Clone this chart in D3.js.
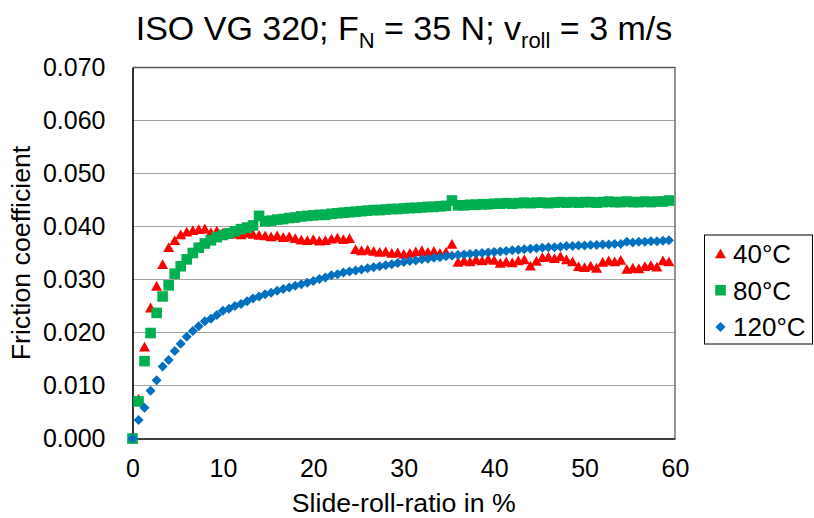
<!DOCTYPE html>
<html>
<head>
<meta charset="utf-8">
<script src="https://cdn.jsdelivr.net/npm/d3@7"></script>
<style>
  html, body { margin: 0; padding: 0; background: #fff; }
  svg text { font-family: "Liberation Sans", Arial, sans-serif; fill: #000; }
</style>
</head>
<body>
<svg id="chart" width="814" height="518"></svg>
<script>
// Slide-roll-ratio in %
const srr = [0, 0.67, 1.33, 2, 2.67, 3.33, 4, 4.67, 5.33, 6, 6.67, 7.33, 8, 8.67, 9.33,
  10, 10.67, 11.33, 12, 12.67, 13.33, 14, 14.67, 15.33, 16, 16.67, 17.33, 18, 18.67, 19.33,
  20, 20.67, 21.33, 22, 22.67, 23.33, 24, 24.67, 25.33, 26, 26.67, 27.33, 28, 28.67, 29.33,
  30, 30.67, 31.33, 32, 32.67, 33.33, 34, 34.67, 35.33, 36, 36.67, 37.33, 38, 38.67, 39.33,
  40, 40.67, 41.33, 42, 42.67, 43.33, 44, 44.67, 45.33, 46, 46.67, 47.33, 48, 48.67, 49.33,
  50, 50.67, 51.33, 52, 52.67, 53.33, 54, 54.67, 55.33, 56, 56.67, 57.33, 58, 58.67, 59.33];

// Friction coefficient at 40 °C
const mu40 = [0.0000, 0.0075, 0.0173, 0.0247, 0.0288, 0.0329, 0.0361, 0.0374, 0.0385, 0.0390,
  0.0393, 0.0395, 0.0396, 0.0389, 0.0392, 0.0388, 0.0386, 0.0387, 0.0385, 0.0388,
  0.0386, 0.0384, 0.0383, 0.0381, 0.0383, 0.0380, 0.0381, 0.0378, 0.0375, 0.0374,
  0.0376, 0.0373, 0.0374, 0.0377, 0.0379, 0.0376, 0.0378, 0.0357, 0.0355, 0.0356,
  0.0354, 0.0352, 0.0353, 0.0350, 0.0351, 0.0348, 0.0350, 0.0353, 0.0355, 0.0352,
  0.0354, 0.0350, 0.0352, 0.0367, 0.0333, 0.0336, 0.0334, 0.0338, 0.0336, 0.0339,
  0.0337, 0.0331, 0.0334, 0.0332, 0.0336, 0.0338, 0.0326, 0.0335, 0.0342, 0.0343,
  0.0340, 0.0344, 0.0338, 0.0334, 0.0325, 0.0323, 0.0326, 0.0322, 0.0333, 0.0336,
  0.0334, 0.0337, 0.0320, 0.0322, 0.0321, 0.0325, 0.0327, 0.0324, 0.0336, 0.0334];

// Friction coefficient at 80 °C
const mu80 = [0.0000, 0.0070, 0.0146, 0.0199, 0.0237, 0.0268, 0.0289, 0.0311, 0.0325, 0.0338,
  0.0350, 0.0360, 0.0368, 0.0374, 0.0380, 0.0384, 0.0387, 0.0391, 0.0395, 0.0398,
  0.0402, 0.0420, 0.0410, 0.0411, 0.0413, 0.0414, 0.0416, 0.0417, 0.0419, 0.0420,
  0.0421, 0.0422, 0.0422, 0.0424, 0.0425, 0.0426, 0.0427, 0.0428, 0.0429, 0.0430,
  0.0431, 0.0431, 0.0432, 0.0433, 0.0433, 0.0434, 0.0435, 0.0435, 0.0436, 0.0437,
  0.0437, 0.0438, 0.0439, 0.0449, 0.0440, 0.0440, 0.0441, 0.0441, 0.0442, 0.0442,
  0.0443, 0.0443, 0.0444, 0.0443, 0.0444, 0.0445, 0.0444, 0.0445, 0.0445, 0.0444,
  0.0445, 0.0446, 0.0445, 0.0446, 0.0445, 0.0446, 0.0446, 0.0445, 0.0446, 0.0447,
  0.0446, 0.0446, 0.0447, 0.0446, 0.0446, 0.0447, 0.0446, 0.0447, 0.0447, 0.0449];

// Friction coefficient at 120 °C
const mu120 = [0.0000, 0.0035, 0.0058, 0.0090, 0.0110, 0.0136, 0.0148, 0.0165, 0.0179, 0.0192,
  0.0203, 0.0212, 0.0221, 0.0226, 0.0233, 0.0241, 0.0245, 0.0250, 0.0254, 0.0259,
  0.0264, 0.0268, 0.0272, 0.0275, 0.0279, 0.0282, 0.0285, 0.0288, 0.0291, 0.0294,
  0.0297, 0.0301, 0.0304, 0.0308, 0.0310, 0.0313, 0.0315, 0.0317, 0.0319, 0.0321,
  0.0323, 0.0325, 0.0327, 0.0329, 0.0331, 0.0333, 0.0335, 0.0336, 0.0338, 0.0339,
  0.0341, 0.0342, 0.0344, 0.0345, 0.0346, 0.0347, 0.0348, 0.0349, 0.0350, 0.0351,
  0.0352, 0.0353, 0.0354, 0.0355, 0.0356, 0.0357, 0.0358, 0.0359, 0.0360, 0.0361,
  0.0361, 0.0362, 0.0363, 0.0363, 0.0364, 0.0364, 0.0365, 0.0365, 0.0366, 0.0366,
  0.0367, 0.0367, 0.0371, 0.0370, 0.0371, 0.0371, 0.0372, 0.0372, 0.0373, 0.0374];

const seriesNames = ["40°C", "80°C", "120°C"];
const seriesColors = ["#FF0000", "#00B050", "#0070C0"];
const seriesShapes = ["triangle", "square", "diamond"];
const xTicks = [0, 10, 20, 30, 40, 50, 60];
const yTicks = [0, 0.01, 0.02, 0.03, 0.04, 0.05, 0.06, 0.07];

const svg = d3.select("#chart");
const plot = { left: 132.5, right: 675, top: 67.5, bottom: 438.5 };

const x = d3.scaleLinear().domain([0, 60]).range([plot.left, plot.right]);
const y = d3.scaleLinear().domain([0, 0.07]).range([plot.bottom, plot.top]);

// marker outlines, centred on the data point
function markerPath(shape) {
  if (shape === "triangle") return "M0,-5L5.5,4.8L-5.5,4.8Z";
  if (shape === "square") return "M-5.3,-5.3H5.3V5.3H-5.3Z";
  return "M0,-5L5,0L0,5L-5,0Z";
}

// horizontal gridlines
svg.append("g")
  .selectAll("line")
  .data(yTicks.filter(d => d > 0 && d < 0.07))
  .join("line")
  .attr("x1", plot.left).attr("x2", plot.right)
  .attr("y1", d => y(d)).attr("y2", d => y(d))
  .attr("stroke", "#a3a3a3").attr("stroke-width", 1.2);

// plot frame (top and right)
svg.append("path")
  .attr("d", `M${plot.left},${plot.top}H${plot.right}V${plot.bottom}`)
  .attr("fill", "none").attr("stroke", "#595959").attr("stroke-width", 1.3);

// axes
const xAxis = d3.axisBottom(x).tickValues(xTicks).tickSize(0).tickPadding(21).tickFormat(d3.format("d"));
const yAxis = d3.axisLeft(y).tickValues(yTicks).tickSize(0).tickPadding(27).tickFormat(d3.format(".3f"));

const gx = svg.append("g").attr("transform", `translate(0,${plot.bottom})`).call(xAxis);
const gy = svg.append("g").attr("transform", `translate(${plot.left},0)`).call(yAxis);
[gx, gy].forEach(g => {
  g.select(".domain").attr("stroke", "#000").attr("stroke-width", 1.6);
  g.selectAll("text").style("font-size", "25px").style("font-family", "Liberation Sans, Arial, sans-serif").attr("fill", "#000");
});

// data markers
const allSeries = [mu40, mu80, mu120];
allSeries.forEach((vals, s) => {
  svg.append("g")
    .selectAll("path")
    .data(vals.map((v, i) => [srr[i], v]))
    .join("path")
    .attr("d", markerPath(seriesShapes[s]))
    .attr("transform", d => `translate(${x(d[0])},${y(d[1])})`)
    .attr("fill", seriesColors[s]);
});

// title with subscripts
const title = svg.append("text")
  .attr("x", 404).attr("y", 40)
  .attr("text-anchor", "middle")
  .style("font-size", "34px");
title.append("tspan").text("ISO VG 320; F");
title.append("tspan").attr("dy", 8).style("font-size", "22px").text("N");
title.append("tspan").attr("dy", -8).text(" = 35 N; v");
title.append("tspan").attr("dy", 8).style("font-size", "22px").text("roll");
title.append("tspan").attr("dy", -8).text(" = 3 m/s");

// axis titles
svg.append("text")
  .attr("x", (plot.left + plot.right) / 2).attr("y", 512)
  .attr("text-anchor", "middle")
  .style("font-size", "26.7px")
  .text("Slide-roll-ratio in %");

svg.append("text")
  .attr("transform", `translate(30,${(plot.top + plot.bottom) / 2}) rotate(-90)`)
  .attr("text-anchor", "middle")
  .style("font-size", "26.7px")
  .text("Friction coefficient");

// legend
const legend = svg.append("g");
legend.append("rect")
  .attr("x", 704.5).attr("y", 235).attr("width", 108).attr("height", 109)
  .attr("fill", "#fff").attr("stroke", "#000").attr("stroke-width", 1);
seriesNames.forEach((name, i) => {
  const cy = 253.5 + i * 36.7;
  legend.append("path")
    .attr("d", markerPath(seriesShapes[i]))
    .attr("transform", `translate(720.5,${cy})`)
    .attr("fill", seriesColors[i]);
  legend.append("text")
    .attr("x", 733).attr("y", cy + 9.5)
    .style("font-size", "26px")
    .text(name);
});
</script>
</body>
</html>
